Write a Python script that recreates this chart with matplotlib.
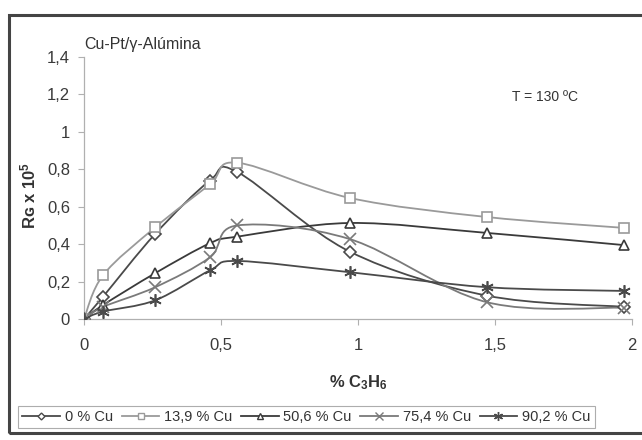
import numpy as np
import matplotlib
matplotlib.use("Agg")
import matplotlib.pyplot as plt
from matplotlib.path import Path
from matplotlib.patches import PathPatch, Rectangle
from matplotlib.lines import Line2D

plt.rcParams['font.family'] = ['Liberation Sans', 'DejaVu Sans']
plt.rcParams['mathtext.default'] = 'regular'

x_c3h6 = [0, 0.07, 0.26, 0.46, 0.56, 0.97, 1.47, 1.97]
cu_0 = [0, 0.12, 0.455, 0.74, 0.785, 0.36, 0.125, 0.065]
cu_139 = [0, 0.235, 0.49, 0.72, 0.835, 0.647, 0.545, 0.487]
cu_506 = [0, 0.075, 0.245, 0.405, 0.44, 0.513, 0.46, 0.395]
cu_754 = [0, 0.065, 0.17, 0.33, 0.50, 0.427, 0.09, 0.06]
cu_902 = [0, 0.04, 0.10, 0.26, 0.31, 0.25, 0.17, 0.15]

labels = ['0 % Cu', '13,9 % Cu', '50,6 % Cu', '75,4 % Cu', '90,2 % Cu']
series = [cu_0, cu_139, cu_506, cu_754, cu_902]
markers = ['D', 's', '^', 'x', (6, 2, 0)]
msizes = [6, 7, 7, 8, 9]
colors = ['#4a4a4a', '#9a9a9a', '#3a3a3a', '#7a7a7a', '#4a4a4a']

xticks = [0, 0.5, 1, 1.5, 2]
xticklabels = ['0', '0,5', '1', '1,5', '2']
yticks = [0, 0.2, 0.4, 0.6, 0.8, 1.0, 1.2, 1.4]
yticklabels = ['0', '0,2', '0,4', '0,6', '0,8', '1', '1,2', '1,4']


def smooth_path(xs, ys):
    pts = np.column_stack([xs, ys]).astype(float)
    n = len(pts)
    verts = [pts[0]]
    codes = [Path.MOVETO]
    for i in range(n - 1):
        p0 = pts[i - 1] if i > 0 else pts[i]
        p1 = pts[i]
        p2 = pts[i + 1]
        p3 = pts[i + 2] if i + 2 < n else pts[i + 1]
        c1 = p1 + (p2 - p0) / 6.0
        c2 = p2 - (p3 - p1) / 6.0
        verts += [c1, c2, p2]
        codes += [Path.CURVE4] * 3
    return Path(verts, codes)


fig = plt.figure(figsize=(6.42, 4.40), dpi=100)
ax = fig.add_axes([84 / 642, 1 - 319 / 440, (632 - 84) / 642, (319 - 57) / 440])

handles = []
for ys, m, ms, c, lab in zip(series, markers, msizes, colors, labels):
    patch = PathPatch(smooth_path(x_c3h6, ys), facecolor='none', edgecolor=c,
                      lw=1.3, transform=ax.transData, zorder=2)
    ax.add_patch(patch)
    ax.plot(x_c3h6, ys, linestyle='none', marker=m, markersize=ms if m != 'D' else 6,
            markerfacecolor='white', markeredgecolor=c, markeredgewidth=1.2, zorder=3)
    handles.append(Line2D([], [], color=c, lw=1.3, marker=m, markersize=ms - 2.5,
                          markerfacecolor='white', markeredgecolor=c, markeredgewidth=1.0))

ax.set_xlim(0, 2)
ax.set_ylim(0, 1.4)
ax.set_xticks(xticks)
ax.set_xticklabels(xticklabels)
ax.set_yticks(yticks)
ax.set_yticklabels(yticklabels)
for s in ['top', 'right']:
    ax.spines[s].set_visible(False)
for s in ['left', 'bottom']:
    ax.spines[s].set_color('#b0b0b0')
    ax.spines[s].set_linewidth(0.9)
ax.tick_params(direction='out', length=4, width=0.8, color='#b0b0b0',
               labelsize=12, labelcolor='#3a3a3a')
ax.tick_params(axis='x', pad=10)
ax.tick_params(axis='y', pad=6)

ax.set_xlabel('% C$_3$H$_6$', fontsize=12, fontweight='bold', color='#333333', labelpad=14)
fig.text(28 / 642, 1 - 195 / 440, 'Rɢ x 10$^{5}$', rotation=90,
         fontsize=12, fontweight='bold', color='#333333', ha='center', va='center')

fig.text(84 / 642, 1 - 45 / 440, 'Cu-Pt/γ-Alúmina', fontsize=11.5, color='#333333',
         ha='left', va='center')
fig.text(545 / 642, 1 - 97 / 440, 'T = 130 ºC', fontsize=10, color='#333333',
         ha='center', va='center')

leg = fig.legend(handles, labels, loc='center left',
                 bbox_to_anchor=(18 / 642, 1 - 417 / 440), ncol=5, fontsize=10.5,
                 frameon=True, fancybox=False, handlelength=2.6, handletextpad=0.3,
                 columnspacing=0.6, borderpad=0.3, borderaxespad=0, labelcolor='#333333')
leg.get_frame().set_edgecolor('#999999')
leg.get_frame().set_linewidth(0.8)

frame = Rectangle((9 / 642, 1 - 433 / 440), 1.0, (433 - 15) / 440, transform=fig.transFigure,
                  facecolor='none', edgecolor='#444444', lw=2.2, clip_on=False)
fig.add_artist(frame)

fig.savefig('out.png', dpi=100)
